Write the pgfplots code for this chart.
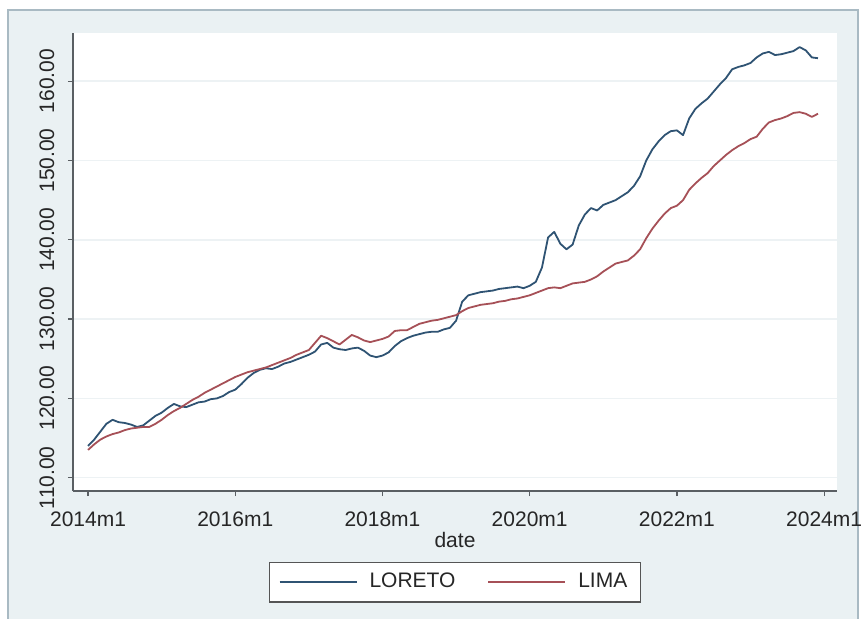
\documentclass[border=0pt]{standalone}
\usepackage{pgfplots}
\usepackage{pgfplotstable}
\pgfplotsset{compat=1.18}
\usepackage{fontspec}
\setmainfont{Liberation Sans}
\definecolor{bgc}{HTML}{EAF1F3}
\definecolor{framec}{HTML}{A9BAC3}
\definecolor{axisc}{HTML}{5A5F63}
\definecolor{gridc}{HTML}{EDF2F4}
\definecolor{txtc}{HTML}{262626}
\definecolor{loreto}{HTML}{2F5373}
\definecolor{lima}{HTML}{A65057}
\definecolor{legc}{HTML}{555555}

\pgfplotstableread{
m v
0 114.0
1 114.8
2 115.8
3 116.8
4 117.3
5 117.0
6 116.9
7 116.7
8 116.4
9 116.6
10 117.2
11 117.8
12 118.2
13 118.8
14 119.3
15 119.0
16 118.9
17 119.2
18 119.5
19 119.6
20 119.9
21 120.0
22 120.3
23 120.8
24 121.1
25 121.8
26 122.6
27 123.2
28 123.6
29 123.8
30 123.7
31 124.0
32 124.4
33 124.6
34 124.9
35 125.2
36 125.5
37 125.9
38 126.8
39 127.0
40 126.4
41 126.2
42 126.1
43 126.3
44 126.4
45 126.0
46 125.4
47 125.2
48 125.4
49 125.8
50 126.6
51 127.2
52 127.6
53 127.9
54 128.1
55 128.3
56 128.4
57 128.4
58 128.7
59 128.9
60 129.8
61 132.2
62 133.0
63 133.2
64 133.4
65 133.5
66 133.6
67 133.8
68 133.9
69 134.0
70 134.1
71 133.9
72 134.2
73 134.7
74 136.5
75 140.3
76 141.0
77 139.5
78 138.8
79 139.4
80 141.8
81 143.2
82 144.0
83 143.7
84 144.4
85 144.7
86 145.0
87 145.5
88 146.0
89 146.8
90 148.0
91 150.0
92 151.4
93 152.4
94 153.2
95 153.7
96 153.8
97 153.2
98 155.3
99 156.5
100 157.2
101 157.8
102 158.7
103 159.6
104 160.4
105 161.5
106 161.8
107 162.0
108 162.3
109 163.0
110 163.5
111 163.7
112 163.3
113 163.4
114 163.6
115 163.8
116 164.3
117 163.9
118 163.0
119 162.9
}\loreto

\pgfplotstableread{
m v
0 113.5
1 114.2
2 114.8
3 115.2
4 115.5
5 115.7
6 116.0
7 116.2
8 116.3
9 116.4
10 116.4
11 116.8
12 117.3
13 117.9
14 118.4
15 118.8
16 119.3
17 119.8
18 120.2
19 120.7
20 121.1
21 121.5
22 121.9
23 122.3
24 122.7
25 123.0
26 123.3
27 123.5
28 123.7
29 123.9
30 124.2
31 124.5
32 124.8
33 125.1
34 125.5
35 125.8
36 126.1
37 127.0
38 127.9
39 127.6
40 127.2
41 126.8
42 127.4
43 128.0
44 127.7
45 127.3
46 127.1
47 127.3
48 127.5
49 127.8
50 128.5
51 128.6
52 128.6
53 129.0
54 129.4
55 129.6
56 129.8
57 129.9
58 130.1
59 130.3
60 130.5
61 131.0
62 131.4
63 131.6
64 131.8
65 131.9
66 132.0
67 132.2
68 132.3
69 132.5
70 132.6
71 132.8
72 133.0
73 133.3
74 133.6
75 133.9
76 134.0
77 133.9
78 134.2
79 134.5
80 134.6
81 134.7
82 135.0
83 135.4
84 136.0
85 136.5
86 137.0
87 137.2
88 137.4
89 138.0
90 138.8
91 140.2
92 141.4
93 142.4
94 143.3
95 144.0
96 144.3
97 145.0
98 146.3
99 147.1
100 147.8
101 148.4
102 149.3
103 150.0
104 150.7
105 151.3
106 151.8
107 152.2
108 152.7
109 153.0
110 154.0
111 154.8
112 155.1
113 155.3
114 155.6
115 156.0
116 156.1
117 155.9
118 155.5
119 155.9
}\lima

\begin{document}
\begin{tikzpicture}
\path[use as bounding box] (-36.5pt,-63.5pt) rectangle (394pt,245.5pt);
\fill[white] (-36.5pt,-63.5pt) rectangle (394pt,245.5pt);
\fill[bgc] (-32.5pt,-70pt) rectangle (392.5pt,240.5pt);
\draw[framec, line width=0.8pt] (-32.5pt,-70pt) -- (-32.5pt,240.5pt) -- (392.5pt,240.5pt) -- (392.5pt,-70pt);
\begin{axis}[
  at={(0,0)}, anchor=south west,
  scale only axis, width=382pt, height=229pt,
  xmin=-2.45, xmax=122.1, ymin=108.32, ymax=166.08,
  axis x line*=bottom, axis y line*=left,
  xtick pos=bottom, ytick pos=left,
  axis background/.style={fill=white},
  axis line style={draw=axisc, line width=0.7pt},
  xtick={0,24,48,72,96,120},
  xticklabels={2014m1,2016m1,2018m1,2020m1,2022m1,2024m1},
  ytick={110,120,130,140,150,160},
  yticklabels={110.00,120.00,130.00,140.00,150.00,160.00},
  tick align=outside, major tick length=2.6pt,
  tick style={draw=axisc, line width=0.6pt},
  ymajorgrids, grid style={draw=gridc, line width=0.8pt},
  tick label style={font=\fontsize{10.5}{12}\selectfont, text=txtc},
  yticklabel style={xshift=-6.5pt, rotate=90, anchor=south, inner sep=0pt},
  xticklabel style={anchor=north, inner sep=0pt, yshift=-7.5pt},
  xlabel={date},
  xlabel style={at={(axis description cs:0.5,-0.107)}, anchor=center, inner sep=0pt, font=\fontsize{10.5}{12}\selectfont, text=txtc},
  legend columns=2,
  legend style={at={(0.5,-0.199)}, anchor=center, draw=legc, line width=0.7pt, fill=white,
    font=\fontsize{10.5}{12}\selectfont, text=txtc, inner xsep=4.5pt, inner ysep=3.5pt,
    /tikz/every odd column/.append style={column sep=4pt},
    /tikz/every even column/.append style={column sep=14pt},
    legend cell align=left},
  legend image code/.code={\draw[#1] (0pt,0pt) -- (38.5pt,0pt);},
]
\addplot[loreto, line width=0.9pt, line join=round] table[x=m, y=v] {\loreto};
\addlegendentry{LORETO}
\addplot[lima, line width=0.9pt, line join=round] table[x=m, y=v] {\lima};
\addlegendentry{LIMA}
\end{axis}
\end{tikzpicture}
\end{document}
